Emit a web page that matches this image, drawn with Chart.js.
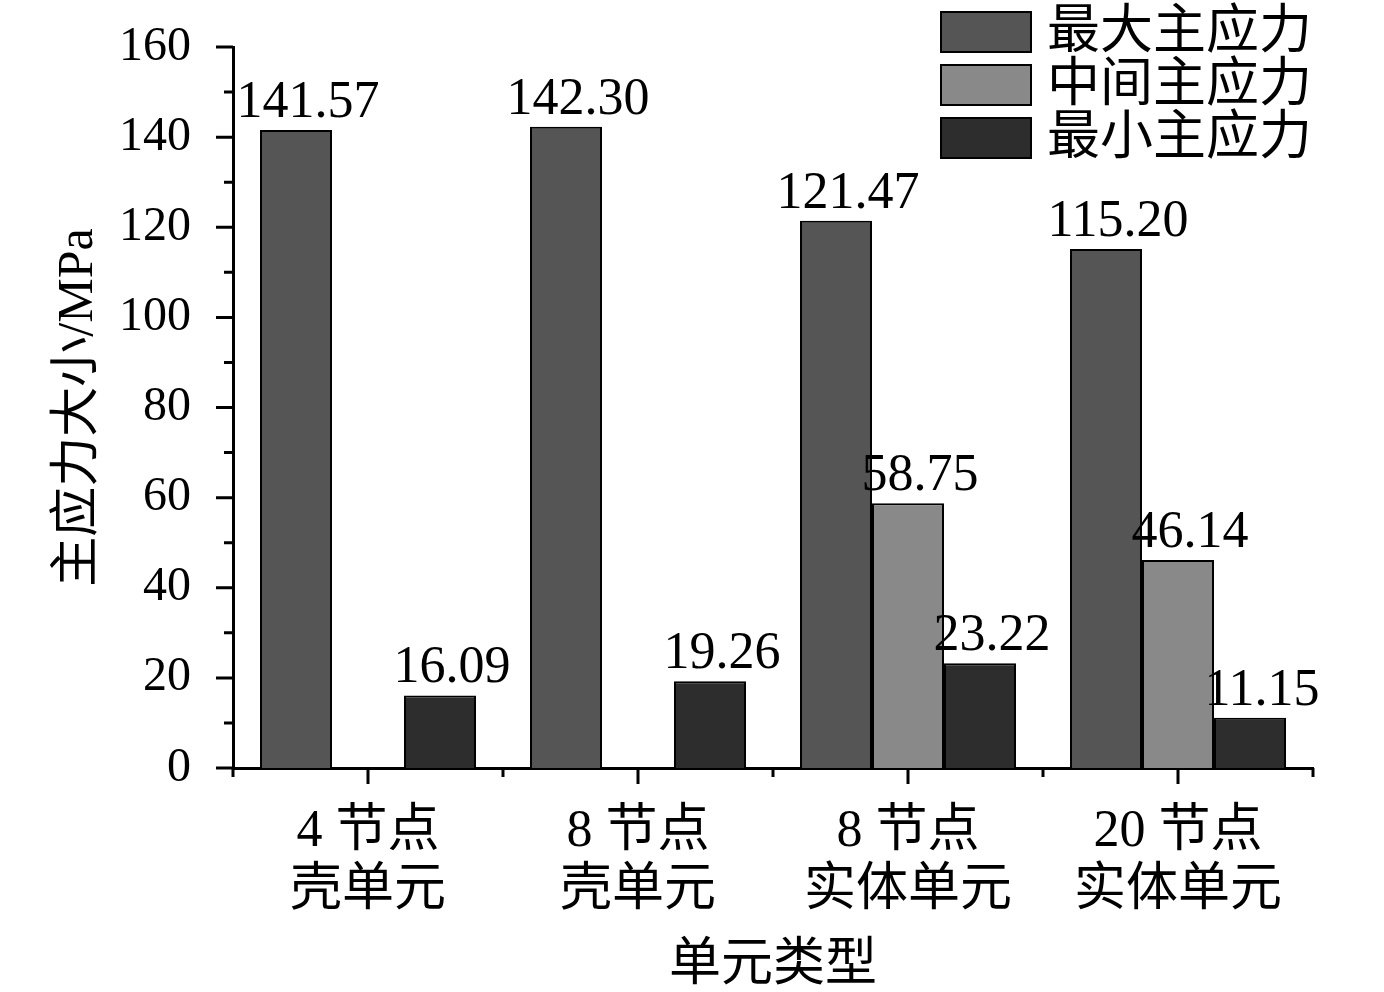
<!DOCTYPE html>
<html>
<head>
<meta charset="utf-8">
<script src="https://cdn.jsdelivr.net/npm/chart.js@4"></script>
<style>
    body { margin: 0; background: #fff; }
    #wrap { width: 1384px; height: 992px; }
</style>
</head>
<body>
<div id="wrap"><canvas id="stress-chart" width="1384" height="992"></canvas></div>
<script>
// Element types and principal stress values (MPa)
const categories = [
    ['4 节点', '壳单元'],
    ['8 节点', '壳单元'],
    ['8 节点', '实体单元'],
    ['20 节点', '实体单元']
];
const seriesNames = ['最大主应力', '中间主应力', '最小主应力'];
const maxStress = [141.57, 142.30, 121.47, 115.20];
const midStress = [null, null, 58.75, 46.14];
const minStress = [16.09, 19.26, 23.22, 11.15];
const yMin = 0;
const yMax = 160;
const yStep = 20;

const FONT = "'Liberation Serif', 'Times New Roman', 'Noto Sans CJK SC', serif";

// Value labels above each bar
const valueLabels = {
    id: 'valueLabels',
    afterDatasetsDraw(chart) {
        const ctx = chart.ctx;
        ctx.save();
        ctx.fillStyle = '#000';
        ctx.font = '52px ' + FONT;
        ctx.textAlign = 'center';
        ctx.textBaseline = 'alphabetic';
        chart.data.datasets.forEach((ds, i) => {
            chart.getDatasetMeta(i).data.forEach((bar, j) => {
                const v = ds.data[j];
                if (v === null || v === undefined) return;
                ctx.fillText(v.toFixed(2), bar.x + 12, bar.y - 13);
            });
        });
        ctx.restore();
    }
};

// Major / minor tick marks on both axes
const axisTicks = {
    id: 'axisTicks',
    afterDraw(chart) {
        const { ctx, scales: { x, y } } = chart;
        const axisX = chart.chartArea.left;
        const axisY = chart.chartArea.bottom;
        ctx.save();
        ctx.strokeStyle = '#000';
        ctx.lineWidth = 3;
        ctx.beginPath();
        for (let v = yMin; v <= yMax; v += yStep / 2) {
            const py = y.getPixelForValue(v);
            const len = v % yStep === 0 ? 17 : 9;
            ctx.moveTo(axisX - len, py);
            ctx.lineTo(axisX, py);
        }
        const catW = (x.right - x.left) / categories.length;
        categories.forEach((c, i) => {
            const px = x.getPixelForValue(i);
            ctx.moveTo(px, axisY);
            ctx.lineTo(px, axisY + 16);
            ctx.moveTo(px + catW / 2, axisY);
            ctx.lineTo(px + catW / 2, axisY + 9);
        });
        ctx.moveTo(axisX, axisY);
        ctx.lineTo(axisX, axisY + 9);
        ctx.stroke();
        ctx.restore();
    }
};

// Legend inside the top right corner
const boxLegend = {
    id: 'boxLegend',
    afterDraw(chart) {
        const ctx = chart.ctx;
        ctx.save();
        ctx.font = '53px ' + FONT;
        ctx.textBaseline = 'middle';
        chart.data.datasets.forEach((ds, i) => {
            const top = 12 + i * 53;
            ctx.fillStyle = ds.backgroundColor;
            ctx.fillRect(941, top, 90, 40);
            ctx.strokeStyle = '#000';
            ctx.lineWidth = 2;
            ctx.strokeRect(941, top, 90, 40);
            ctx.fillStyle = '#000';
            ctx.fillText(ds.label, 1047, top + 22);
        });
        ctx.restore();
    }
};

new Chart(document.getElementById('stress-chart').getContext('2d'), {
    type: 'bar',
    data: {
        labels: categories,
        datasets: [
            { label: seriesNames[0], data: maxStress, backgroundColor: '#555555' },
            { label: seriesNames[1], data: midStress, backgroundColor: '#898989' },
            { label: seriesNames[2], data: minStress, backgroundColor: '#2d2d2d' }
        ]
    },
    options: {
        responsive: false,
        animation: false,
        layout: { padding: { top: 47, right: 71, left: 0, bottom: 0 } },
        datasets: {
            bar: {
                categoryPercentage: 0.8,
                barPercentage: 1,
                borderColor: '#000',
                borderWidth: 2
            }
        },
        plugins: {
            legend: { display: false },
            tooltip: { enabled: false }
        },
        scales: {
            x: {
                grid: { display: false, drawTicks: false },
                border: { display: true, color: '#000', width: 3 },
                ticks: {
                    color: '#000',
                    padding: 35,
                    maxRotation: 0,
                    font: { family: FONT, size: 52, lineHeight: 1.13 }
                },
                title: {
                    display: true,
                    text: '单元类型',
                    color: '#000',
                    font: { family: FONT, size: 52, lineHeight: 1.0 },
                    padding: { top: 0, bottom: 0 }
                },
                afterFit: s => {
                    s.height = 224;
                    s.paddingLeft = 0;
                    s.paddingRight = 0;
                }
            },
            y: {
                min: yMin,
                max: yMax,
                grid: { display: false, drawTicks: false },
                border: { display: true, color: '#000', width: 3 },
                ticks: {
                    stepSize: yStep,
                    color: '#000',
                    padding: 42,
                    font: { family: FONT, size: 48 }
                },
                title: {
                    display: true,
                    text: '主应力大小/MPa',
                    color: '#000',
                    font: { family: FONT, size: 50, lineHeight: 1.2 },
                    padding: { top: 49, bottom: 0 }
                },
                afterFit: s => {
                    s.width = 233;
                    s.paddingTop = 0;
                    s.paddingBottom = 0;
                }
            }
        }
    },
    plugins: [valueLabels, axisTicks, boxLegend]
});
</script>
</body>
</html>
